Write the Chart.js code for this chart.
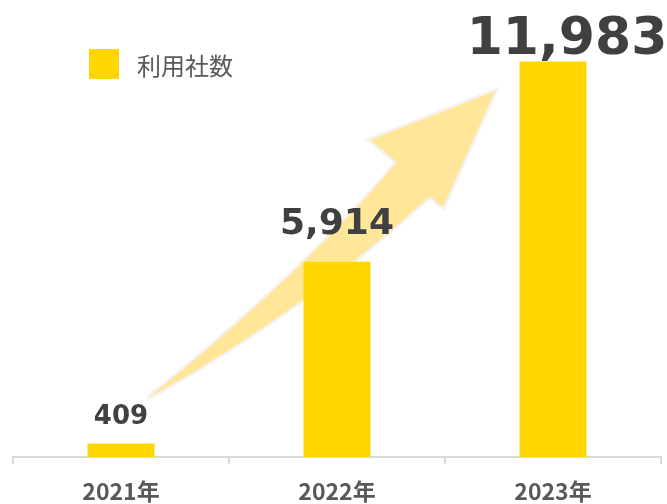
<!DOCTYPE html>
<html lang="ja">
<head>
<meta charset="utf-8">
<script src="https://cdn.jsdelivr.net/npm/chart.js@4.4.1/dist/chart.umd.min.js"></script>
<style>
html,body{margin:0;padding:0;background:#fff;}
#wrap{width:667px;height:504px;}
</style>
</head>
<body>
<div id="wrap"><canvas id="barChart" width="667" height="504"></canvas></div>
<script>
// ================= DATA =================
const years = ["2021年","2022年","2023年"];
const companies = [409, 5914, 11983];
const seriesName = "利用社数";

// label look per bar (size, lift above bar, sideways shift)
const labelSize = [26, 36, 52];
const labelLift = [20, 28, 8];
const labelShift = [0, 0, 14];

const BAR_COLOR = "#ffd700";
const TEXT_DARK = "#404040";
const TEXT_GRAY = "#595959";


// ================= ARROW (decoration, behind bars) =================
const arrowPlugin = {
id:"arrow",
beforeDatasetsDraw(chart){
let ctx = chart.ctx;
ctx.save();
ctx.beginPath();
ctx.moveTo(148,398);
ctx.quadraticCurveTo(305,272,397,162);
ctx.lineTo(370,140);
ctx.lineTo(495,91);
ctx.lineTo(443,207);
ctx.lineTo(430,196);
ctx.quadraticCurveTo(300,314,148,398);
ctx.closePath();
ctx.lineJoin = "miter";
ctx.strokeStyle = "#f7f1ed";
ctx.lineWidth = 5;
ctx.stroke();
ctx.fillStyle = "#ffe699";
ctx.fill();
ctx.restore();
}
};


// ================= VALUE LABELS + LEGEND =================
const labelPlugin = {
id:"labels",
afterDatasetsDraw(chart){
let ctx = chart.ctx;
let meta = chart.getDatasetMeta(0);
ctx.save();
ctx.fillStyle = TEXT_DARK;
ctx.textAlign = "center";
ctx.textBaseline = "alphabetic";
meta.data.forEach((bar,i)=>{
ctx.font = "bold " + labelSize[i] + "px 'DejaVu Sans'";
ctx.fillText(companies[i].toLocaleString("en-US"), bar.x + labelShift[i], bar.y - labelLift[i]);
});

// legend
let ds = chart.data.datasets[0];
ctx.fillStyle = ds.backgroundColor;
ctx.fillRect(89,49,30,30);
ctx.fillStyle = TEXT_GRAY;
ctx.textAlign = "left";
ctx.textBaseline = "middle";
ctx.font = "24px 'Noto Sans CJK JP'";
ctx.fillText(ds.label, 137, 66);
ctx.restore();
}
};


// ================= CHART =================
new Chart(document.getElementById("barChart"),{
type:"bar",
data:{
labels:years,
datasets:[{
label:seriesName,
data:companies,
backgroundColor:BAR_COLOR,
barPercentage:0.31,
categoryPercentage:1
}]
},
options:{
responsive:false,
animation:false,
layout:{padding:{top:28,left:13,right:6,bottom:0}},
plugins:{
legend:{display:false},
tooltip:{enabled:false}
},
scales:{
y:{display:false,min:0,max:13000},
x:{
afterFit(scale){ scale.height = 47; },
border:{color:"#d9d9d9",width:2},
grid:{
drawOnChartArea:false,
color:"#d9d9d9",
lineWidth:2,
tickLength:7
},
ticks:{
color:TEXT_GRAY,
padding:13,
font:{family:"'Noto Sans CJK JP'",size:23,weight:"bold"}
}
}
}
},
plugins:[arrowPlugin,labelPlugin]
});
</script>
</body>
</html>
